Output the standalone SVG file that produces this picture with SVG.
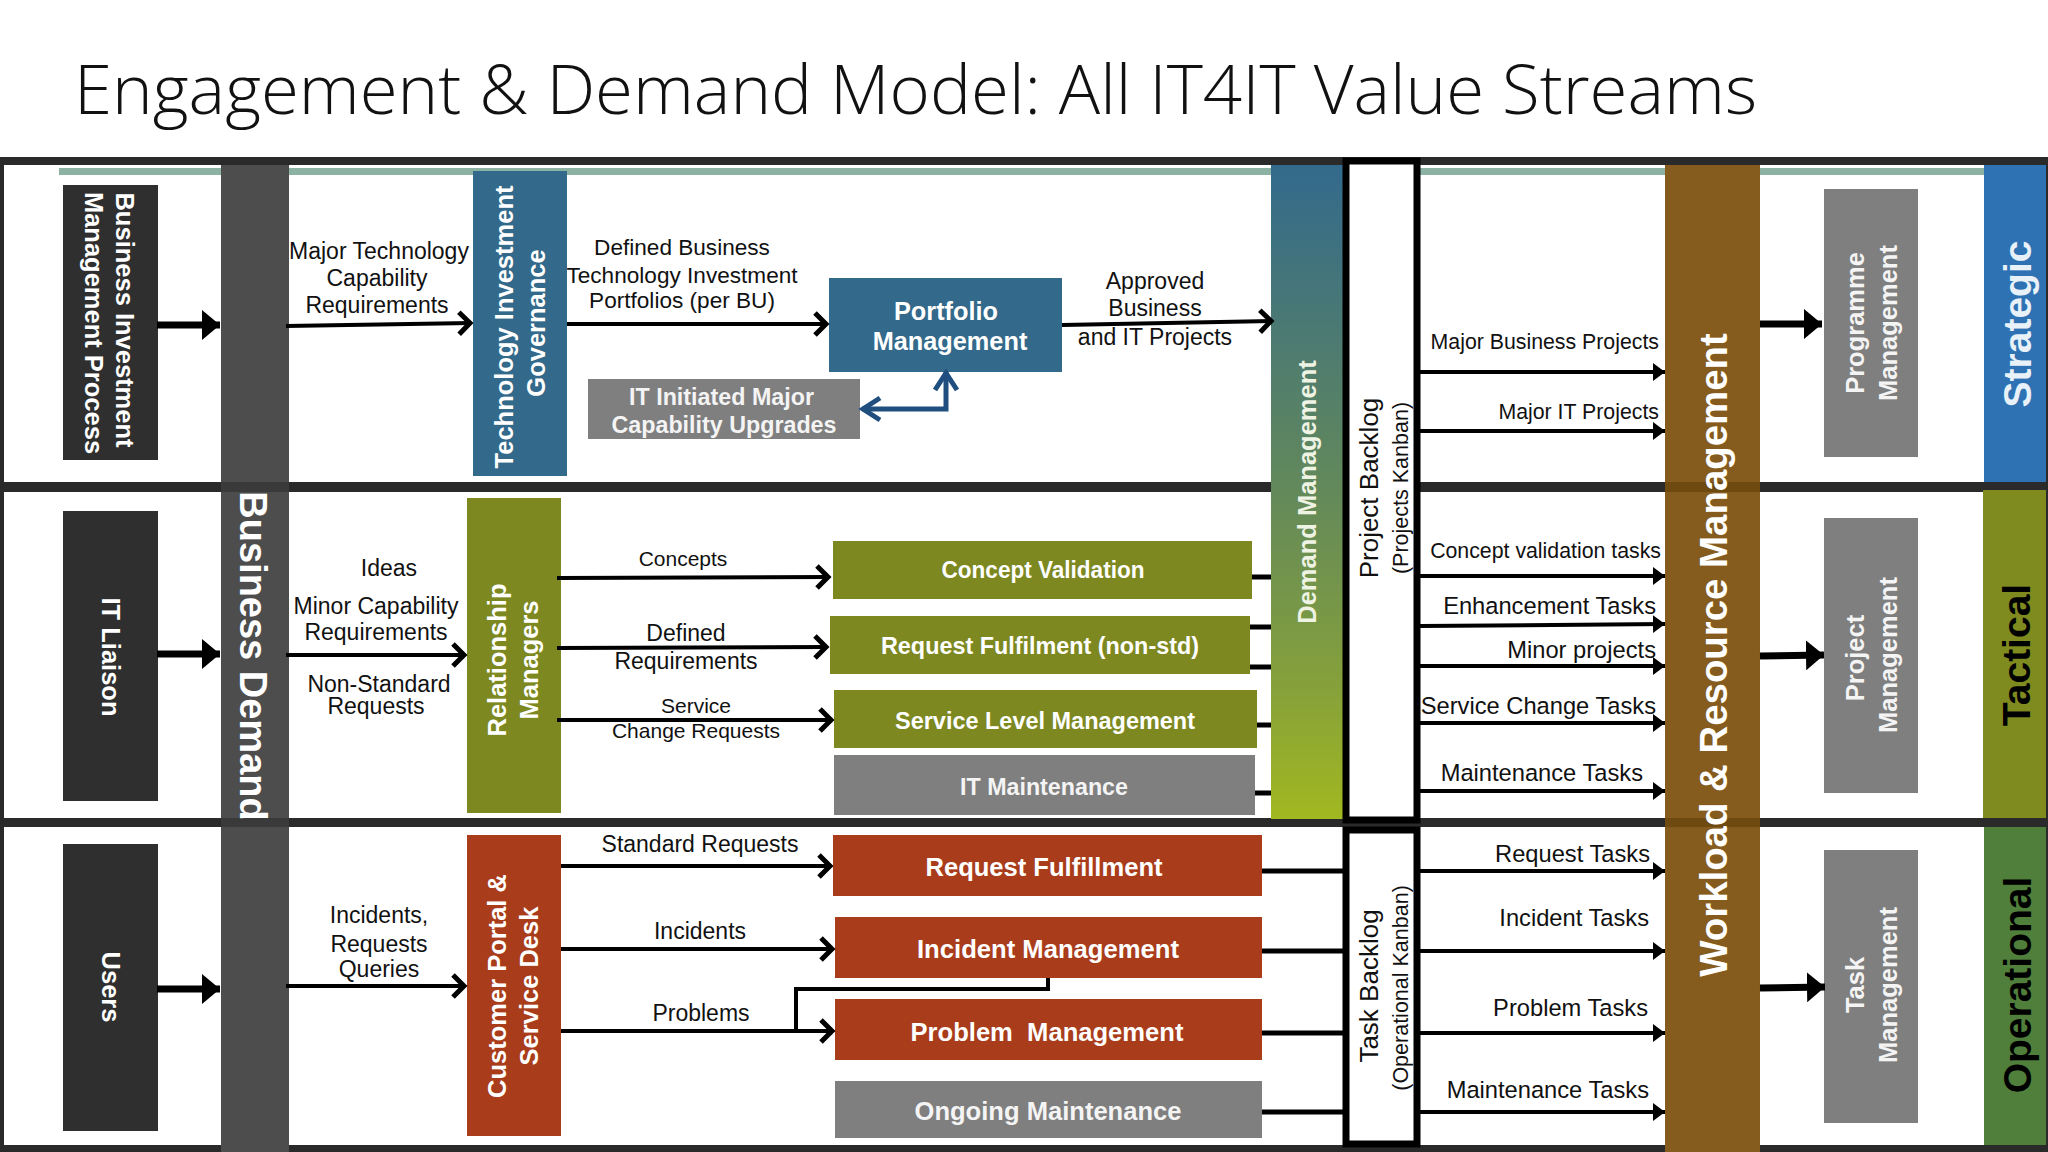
<svg xmlns="http://www.w3.org/2000/svg" width="2048" height="1152" viewBox="0 0 2048 1152">
<style>
text{font-family:"Liberation Sans",Arial,sans-serif}
.t{font-size:23px;fill:#111;text-anchor:middle}
.e{font-size:23.7px;fill:#111;text-anchor:end}
.e2{font-size:21.3px;fill:#111;text-anchor:end}
.w{font-size:24px;font-weight:700;fill:#fff;text-anchor:middle}
.w2{font-size:26px;font-weight:700;fill:#fff;text-anchor:middle}
.r{font-size:24px;font-weight:700;fill:#f4f4f4;text-anchor:middle}
.r2{font-size:26px;font-weight:700;fill:#f4f4f4;text-anchor:middle}
.v{font-size:25.5px;font-weight:700;fill:#fff;text-anchor:middle}
.b{font-size:39px;font-weight:700;text-anchor:middle}
.k{fill:#111;text-anchor:middle;font-size:26px}
.k2{fill:#111;text-anchor:middle;font-size:21.5px}
.l{stroke:#000;stroke-width:4;fill:none}
.o{marker-end:url(#open)}
.f{marker-end:url(#fill)}
.h{stroke:#000;stroke-width:7;fill:none;marker-end:url(#thick)}
.s{stroke:#000;stroke-width:5;fill:none}
.blk{fill:#2f2f2f}.gry{fill:#7f7f7f}.olv{fill:#7d8820}.red{fill:#a93c1a}.blu{fill:#33698a}
</style>
<defs>
<marker id="open" markerUnits="userSpaceOnUse" markerWidth="24" markerHeight="28" refX="20" refY="14" orient="auto"><path d="M8 3L19 14L8 25" fill="none" stroke="#000" stroke-width="5"/></marker>
<marker id="fill" markerUnits="userSpaceOnUse" markerWidth="14" markerHeight="20" refX="12" refY="10" orient="auto"><path d="M0 1L12 10L0 19Z" fill="#000"/></marker>
<marker id="thick" markerUnits="userSpaceOnUse" markerWidth="20" markerHeight="30" refX="18" refY="15" orient="auto"><path d="M0 0L18 15L0 30Z" fill="#000"/></marker>
<marker id="openb" markerUnits="userSpaceOnUse" markerWidth="28" markerHeight="30" refX="24" refY="15" orient="auto-start-reverse"><path d="M6 4L23 15L6 26" fill="none" stroke="#1f4e7f" stroke-width="5"/></marker>
<linearGradient id="dem" x1="0" y1="0" x2="0" y2="1"><stop offset="0" stop-color="#336a8c"/><stop offset="0.5" stop-color="#63895a"/><stop offset="0.8" stop-color="#86a13a"/><stop offset="1" stop-color="#a2b820"/></linearGradient>
</defs>
<rect width="2048" height="1152" fill="#fff"/>
<text id="title" x="74" y="114" font-size="68" fill="#111" style="font-family:'Open Sans',sans-serif;font-weight:350" textLength="1683" lengthAdjust="spacingAndGlyphs">Engagement &amp; Demand Model: All IT4IT Value Streams</text>

<g id="frame">
<rect x="59" y="168" width="1925" height="7" fill="#8cb2a4"/>
<rect x="0" y="157" width="2048" height="8" fill="#2a2a2a"/>
<rect x="0" y="482" width="2048" height="10" fill="#2a2a2a"/>
<rect x="0" y="818" width="2048" height="9" fill="#2a2a2a"/>
<rect x="0" y="1145" width="2048" height="7" fill="#2a2a2a"/>
<rect x="0" y="157" width="4" height="995" fill="#2a2a2a"/>
<rect x="2046" y="157" width="2" height="995" fill="#2a2a2a"/>
</g>

<g id="labels">
<text class="t" x="379" y="259">Major Technology</text><text class="t" x="377" y="286">Capability</text><text class="t" x="377" y="313">Requirements</text>
<text class="t" style="font-size:22.6px" x="682" y="255">Defined Business</text><text class="t" style="font-size:22.6px" x="682" y="283">Technology Investment</text><text class="t" style="font-size:22.6px" x="682" y="308">Portfolios (per BU)</text>
<text class="t" x="1155" y="289">Approved</text><text class="t" x="1155" y="316">Business</text><text class="t" x="1155" y="345">and IT Projects</text>
<text class="t" x="389" y="576">Ideas</text><text class="t" x="376" y="614">Minor Capability</text><text class="t" x="376" y="640">Requirements</text><text class="t" x="379" y="692">Non-Standard</text><text class="t" x="376" y="714">Requests</text>
<text class="t" style="font-size:21px" x="683" y="566">Concepts</text><text class="t" x="686" y="641">Defined</text><text class="t" x="686" y="669">Requirements</text><text class="t" x="696" y="713" style="font-size:21px">Service</text><text class="t" x="696" y="738" style="font-size:21px">Change Requests</text>
<text class="t" x="700" y="852">Standard Requests</text><text class="t" x="700" y="939">Incidents</text><text class="t" x="701" y="1021">Problems</text>
<text class="t" x="379" y="923">Incidents,</text><text class="t" x="379" y="952">Requests</text><text class="t" x="379" y="977">Queries</text>
<text class="e2" x="1659" y="349">Major Business Projects</text><text class="e2" x="1659" y="419">Major IT Projects</text>
<text class="e2" x="1661" y="558">Concept validation tasks</text><text class="e" x="1656" y="614">Enhancement Tasks</text><text class="e" x="1656" y="658">Minor projects</text><text class="e" x="1656" y="714">Service Change Tasks</text><text class="e" x="1643" y="781">Maintenance Tasks</text>
<text class="e" x="1650" y="862">Request Tasks</text><text class="e" x="1649" y="926">Incident Tasks</text><text class="e" x="1648" y="1016">Problem Tasks</text><text class="e" x="1649" y="1098">Maintenance Tasks</text>
</g>

<g id="bmp"><rect class="blk" x="63" y="185" width="95" height="275"/>
<text class="v" transform="translate(116,320) rotate(90)">Business Investment</text><text class="v" transform="translate(85,323) rotate(90)">Management Process</text></g>
<g id="itl"><rect class="blk" x="63" y="511" width="95" height="290"/><text class="v" transform="translate(102,657) rotate(90)">IT Liaison</text></g>
<g id="users"><rect class="blk" x="63" y="844" width="95" height="287"/><text class="v" transform="translate(102,987) rotate(90)">Users</text></g>

<g id="bd"><rect x="221" y="165" width="68" height="987" fill="#4d4d4d"/>
<rect x="221" y="482" width="68" height="10" fill="#3a3a3a"/><rect x="221" y="818" width="68" height="9" fill="#3a3a3a"/>
<text class="w" style="font-size:38px" transform="translate(240,656) rotate(90)">Business Demand</text></g>

<g id="tig"><rect class="blu" x="473" y="171" width="94" height="305"/>
<text class="v" transform="translate(513,327) rotate(-90)">Technology Investment</text><text class="v" transform="translate(545,323) rotate(-90)">Governance</text></g>
<g id="pm"><rect class="blu" x="829" y="278" width="233" height="94"/><text class="w" style="font-size:25.3px" x="946" y="320">Portfolio</text><text class="w" style="font-size:25.3px" x="950" y="350">Management</text></g>
<g id="iti"><rect class="gry" x="588" y="379" width="272" height="60"/><text class="r" x="721.5" y="405" textLength="185" lengthAdjust="spacingAndGlyphs">IT Initiated Major</text><text class="r" x="724" y="433" textLength="225" lengthAdjust="spacingAndGlyphs">Capability Upgrades</text></g>

<g id="rm"><rect class="olv" x="467" y="498" width="94" height="315"/>
<text class="v" transform="translate(506,660) rotate(-90)">Relationship</text><text class="v" transform="translate(538,660) rotate(-90)">Managers</text></g>
<g id="cv"><rect class="olv" x="833" y="541" width="419" height="58"/><text class="w" x="1043" y="578" textLength="203" lengthAdjust="spacingAndGlyphs">Concept Validation</text></g>
<g id="rf"><rect class="olv" x="830" y="616" width="420" height="58"/><text class="w" x="1040" y="654" textLength="318" lengthAdjust="spacingAndGlyphs">Request Fulfilment (non-std)</text></g>
<g id="slm"><rect class="olv" x="834" y="690" width="423" height="58"/><text class="w" x="1045" y="729" textLength="300" lengthAdjust="spacingAndGlyphs">Service Level Management</text></g>
<g id="itm"><rect class="gry" x="834" y="755" width="421" height="60"/><text class="r" x="1044" y="795" textLength="168" lengthAdjust="spacingAndGlyphs">IT Maintenance</text></g>

<g id="cp"><rect class="red" x="467" y="835" width="94" height="301"/>
<text class="v" transform="translate(506,986) rotate(-90)">Customer Portal &amp;</text><text class="v" transform="translate(538,986) rotate(-90)">Service Desk</text></g>
<g id="rqf"><rect class="red" x="833" y="835" width="429" height="61"/><text class="w2" x="1044" y="876" textLength="237" lengthAdjust="spacingAndGlyphs">Request Fulfillment</text></g>
<g id="im"><rect class="red" x="835" y="917" width="427" height="61"/><text class="w2" x="1048" y="958" textLength="262" lengthAdjust="spacingAndGlyphs">Incident Management</text></g>
<g id="prm"><rect class="red" x="835" y="999" width="427" height="61"/><text class="w2" x="1047" y="1041" textLength="273" lengthAdjust="spacingAndGlyphs" style="white-space:pre">Problem  Management</text></g>
<g id="om"><rect class="gry" x="835" y="1081" width="427" height="57"/><text class="r2" x="1048" y="1120" textLength="267" lengthAdjust="spacingAndGlyphs">Ongoing Maintenance</text></g>

<g id="dm"><rect x="1271" y="165" width="73" height="654" fill="url(#dem)"/><text class="v" style="fill:#eef3e4" transform="translate(1316,492) rotate(-90)">Demand Management</text></g>
<g id="pb"><rect x="1346" y="161" width="71" height="659" fill="#fff" stroke="#000" stroke-width="7"/>
<text class="k" transform="translate(1378,488) rotate(-90)">Project Backlog</text><text class="k2" transform="translate(1408,488) rotate(-90)">(Projects Kanban)</text></g>
<g id="tb"><rect x="1346" y="830" width="71" height="314" fill="#fff" stroke="#000" stroke-width="7"/>
<text class="k" transform="translate(1378,986) rotate(-90)">Task Backlog</text><text class="k2" transform="translate(1408,988) rotate(-90)">(Operational Kanban)</text></g>

<g id="wr"><rect x="1665" y="165" width="95" height="987" fill="#855c1e"/>
<rect x="1665" y="482" width="95" height="10" fill="#6e4a10"/><rect x="1665" y="818" width="95" height="9" fill="#6e4a10"/>
<text class="w" style="font-size:38.4px" transform="translate(1727,655) rotate(-90)">Workload &amp; Resource Management</text></g>

<g id="prog"><rect class="gry" x="1824" y="189" width="94" height="268"/>
<text class="v" style="fill:#f4f4f4" transform="translate(1864,323) rotate(-90)">Programme</text><text class="v" style="fill:#f4f4f4" transform="translate(1897,323) rotate(-90)">Management</text></g>
<g id="proj"><rect class="gry" x="1824" y="518" width="94" height="275"/>
<text class="v" style="fill:#f4f4f4" transform="translate(1864,658) rotate(-90)">Project</text><text class="v" style="fill:#f4f4f4" transform="translate(1897,655) rotate(-90)">Management</text></g>
<g id="task"><rect class="gry" x="1824" y="850" width="94" height="273"/>
<text class="v" style="fill:#f4f4f4" transform="translate(1864,985) rotate(-90)">Task</text><text class="v" style="fill:#f4f4f4" transform="translate(1897,985) rotate(-90)">Management</text></g>

<g id="strat"><rect x="1984" y="165" width="62" height="317" fill="#2e72b4"/><text class="b" fill="#e8f0f8" transform="translate(2031,324) rotate(-90)">Strategic</text></g>
<g id="tact"><rect x="1983" y="490" width="63" height="328" fill="#7f8a1f"/><text class="b" fill="#000" transform="translate(2030,655) rotate(-90)">Tactical</text></g>
<g id="oper"><rect x="1984" y="827" width="62" height="318" fill="#4f7f3b"/><text class="b" fill="#000" transform="translate(2031,985) rotate(-90)">Operational</text></g>

<g id="connectors">
<path class="h" d="M157 325H220"/><path class="h" d="M157 654H220"/><path class="h" d="M157 989H220"/>
<path class="h" d="M1760 324H1822"/><path class="h" d="M1760 656L1824 655"/><path class="h" d="M1760 988L1825 987"/>
<path class="l o" d="M286 326L471 323"/>
<path class="l o" d="M567 324H827"/>
<path class="l o" d="M1062 325L1272 321"/>
<path d="M946 372V409H862" fill="none" stroke="#1f4e7f" stroke-width="5" marker-start="url(#openb)" marker-end="url(#openb)"/>
<path class="l o" d="M286 655H465"/>
<path class="l o" d="M557 578L829 577"/>
<path class="l o" d="M557 648L827 647"/>
<path class="l o" d="M557 720H832"/>
<path class="l o" d="M286 986H465"/>
<path class="l o" d="M561 866H831"/>
<path class="l o" d="M561 949H833"/>
<path class="l o" d="M561 1031H833"/>
<path class="l" d="M1048 978V989H796V1030"/>
<path class="s" d="M1252 577H1271M1250 627H1271M1250 667H1271M1257 725H1271M1255 793H1271"/>
<path class="s" d="M1262 871H1343M1262 951H1343M1262 1033H1343M1262 1112H1343"/>
<path class="l f" d="M1420 372H1665"/><path class="l f" d="M1420 431H1665"/>
<path class="l f" d="M1420 576H1665"/><path class="l f" d="M1420 626L1665 624"/><path class="l f" d="M1420 666H1665"/><path class="l f" d="M1420 723H1665"/><path class="l f" d="M1420 791H1665"/>
<path class="l f" d="M1420 871H1665"/><path class="l f" d="M1420 951H1665"/><path class="l f" d="M1420 1033H1665"/><path class="l f" d="M1420 1112H1665"/>
</g>
</svg>
